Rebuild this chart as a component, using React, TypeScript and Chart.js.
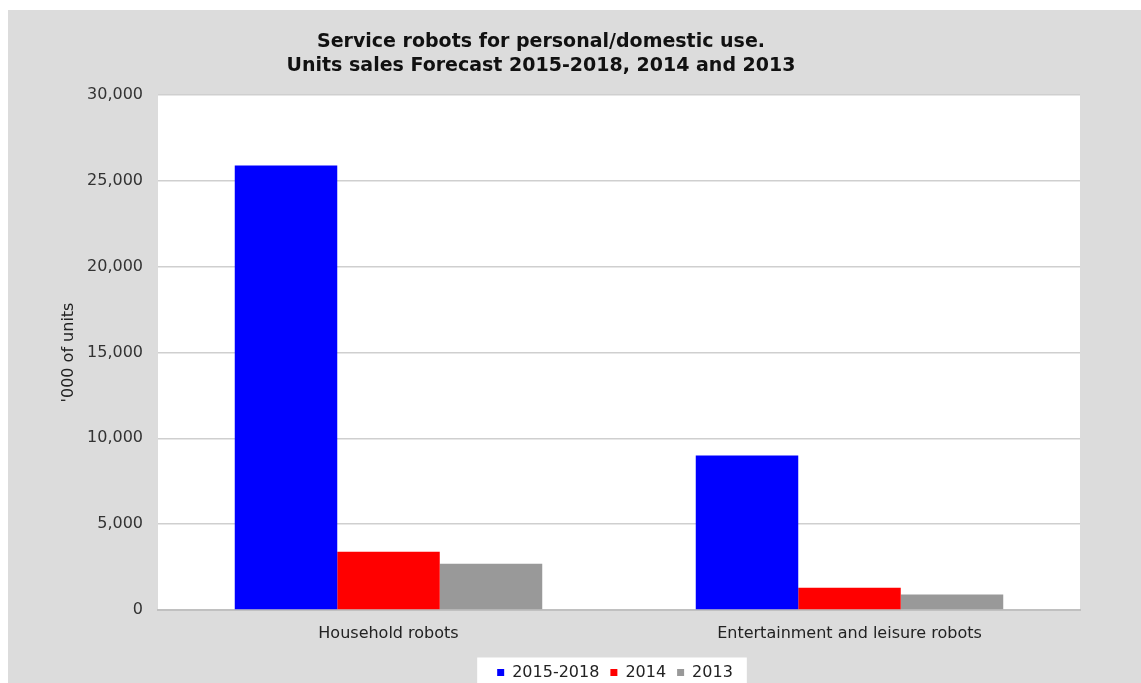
import React, { useEffect, useRef } from 'react';
import { Chart, registerables } from 'chart.js';

Chart.register(...registerables);

const FONT = "'DejaVu Sans', 'Liberation Sans', Arial, sans-serif";

const categories = ['Household robots', 'Entertainment and leisure robots'];
const seriesLabels = ['2015-2018', '2014', '2013'];
const units2015to2018 = [25900, 9000];
const units2014 = [3400, 1300];
const units2013 = [2700, 900];
const seriesColors = ['#0000ff', '#ff0000', '#999999'];
const yTicks = [0, 5000, 10000, 15000, 20000, 25000, 30000];
const titleLines = [
  'Service robots for personal/domestic use.',
  'Units sales Forecast 2015-2018, 2014 and 2013',
];
const yAxisTitle = "'000 of units";

const TITLE_CENTER_X = 533;
const LEGEND_CENTER_X = 607;
const LEGEND_TEXT_Y = 662.5;
const LEGEND_FONT_SIZE = 16;

const layoutPlugin = {
  id: 'layoutTweaks',
  afterLayout(chart: any) {
    const tb = chart.titleBlock;
    if (tb) {
      const w = tb.right - tb.left;
      tb.left = TITLE_CENTER_X - w / 2;
      tb.right = tb.left + w;
    }
    const lg = chart.legend;
    if (lg) {
      const w = lg.right - lg.left;
      lg.left = LEGEND_CENTER_X - w / 2;
      lg.right = lg.left + w;
      const pad = lg.options.labels.padding;
      const dy = LEGEND_TEXT_Y - (lg.top + pad + LEGEND_FONT_SIZE / 2);
      lg.top += dy;
      lg.bottom += dy;
    }
  },
  beforeDraw(chart: any) {
    const { ctx, chartArea, width, height } = chart;
    ctx.save();
    ctx.fillStyle = '#dcdcdc';
    ctx.fillRect(0, 0, width, height);
    ctx.fillStyle = '#ffffff';
    ctx.fillRect(
      chartArea.left,
      chartArea.top,
      chartArea.right - chartArea.left,
      chartArea.bottom - chartArea.top
    );
    const boxes = chart.legend && chart.legend.legendHitBoxes;
    if (boxes && boxes.length) {
      const first = boxes[0];
      const last = boxes[boxes.length - 1];
      const x0 = first.left - 20;
      const x1 = last.left + last.width + 14;
      const y0 = LEGEND_TEXT_Y - 15;
      ctx.fillRect(x0, y0, x1 - x0, height - y0);
    }
    ctx.restore();
  },
};

export default function App() {
  const ref = useRef<HTMLCanvasElement>(null);

  useEffect(() => {
    if (!ref.current) return;
    const seriesValues = [units2015to2018, units2014, units2013];
    const chart = new Chart(ref.current, {
      type: 'bar',
      data: {
        labels: categories,
        datasets: seriesLabels.map((label, i) => ({
          label,
          data: seriesValues[i],
          backgroundColor: seriesColors[i],
          borderColor: seriesColors[i],
          borderWidth: 0,
          categoryPercentage: 0.667,
          barPercentage: 1.0,
        })),
      },
      options: {
        animation: false,
        responsive: true,
        maintainAspectRatio: false,
        events: [],
        layout: { padding: { left: 0, right: 61, top: 0, bottom: 0 } },
        plugins: {
          tooltip: { enabled: false },
          title: {
            display: true,
            text: titleLines,
            color: '#111111',
            font: { family: FONT, size: 19, weight: 'bold', lineHeight: 24 / 19 },
            padding: { top: 20, bottom: 17 },
          },
          legend: {
            display: true,
            position: 'bottom',
            labels: {
              boxWidth: 7,
              boxHeight: 7,
              padding: 11,
              color: '#222222',
              font: { family: FONT, size: LEGEND_FONT_SIZE },
            },
          },
        },
        scales: {
          x: {
            grid: { display: false },
            border: { display: true, color: '#c0c0c0', width: 2 },
            ticks: {
              color: '#222222',
              font: { family: FONT, size: 16 },
              padding: 6,
            },
            afterFit(scale: any) {
              scale.height = 36;
            },
          },
          y: {
            min: 0,
            max: 30000,
            afterBuildTicks(scale: any) {
              scale.ticks = yTicks.map((v) => ({ value: v }));
            },
            ticks: {
              color: '#333333',
              font: { family: FONT, size: 16 },
              padding: 15,
              callback: (v: any) => Number(v).toLocaleString('en-US'),
            },
            grid: { color: '#cfcfcf', lineWidth: 1.5, drawTicks: false },
            border: { display: false },
            title: {
              display: true,
              text: yAxisTitle,
              color: '#222222',
              font: { family: FONT, size: 16 },
              padding: { top: 51, bottom: 0 },
            },
            afterFit(scale: any) {
              scale.width = 150;
            },
          },
        },
      },
      plugins: [layoutPlugin],
    } as any);
    return () => chart.destroy();
  }, []);

  return (
    <div
      style={{
        position: 'fixed',
        left: 8,
        top: 10,
        width: 1133,
        height: 673,
        background: '#dcdcdc',
      }}
    >
      <canvas ref={ref} />
    </div>
  );
}
